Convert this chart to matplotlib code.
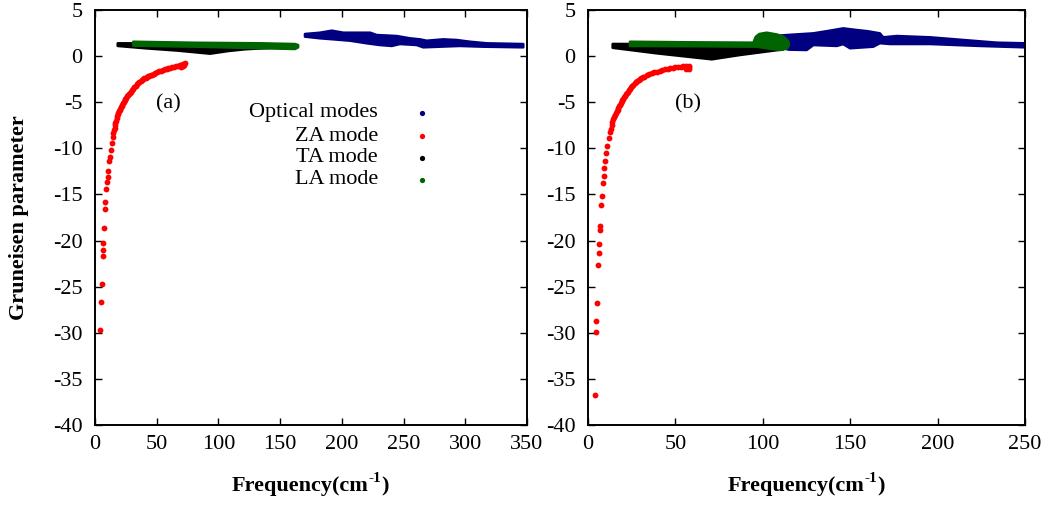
import numpy as np
import matplotlib
matplotlib.use("Agg")
import matplotlib.pyplot as plt

plt.rcParams['font.family'] = ['Liberation Serif', 'DejaVu Serif']
plt.rcParams['axes.unicode_minus'] = False

# ---------------- data ----------------
# panel (a)
za_a_f = [4.3, 5.1, 5.7, 6.2, 6.5, 6.8, 7.3, 8.1, 8.4, 9.2, 10.0, 10.3, 10.8, 11.6, 12.2,
          12.7, 13.5, 14.3, 14.8, 15.4, 15.8, 16.2, 16.6, 17.0, 17.6, 18.0, 18.5, 19.0,
          19.4, 19.9, 20.3, 20.9, 21.5, 22.1, 22.7, 23.3, 24.0, 24.7, 25.5, 26.2, 27.0,
          27.7, 28.5, 29.2, 30.0, 31.0, 32.0, 33.0, 34.0, 35.0, 36.0, 37.0, 38.0, 39.0,
          40.0, 41.0, 42.0, 43.0, 44.0, 45.0, 46.0, 47.5, 49.0, 50.5, 52.0, 53.5, 55.0,
          56.5, 58.0, 59.5, 61.0, 62.5, 64.0, 65.5, 67.0, 68.5, 70.0, 71.5, 73.0, 70.0,
          71.5, 72.5]
za_a_g = [-29.7, -26.7, -24.7, -21.7, -21.0, -20.3, -18.6, -16.6, -15.8, -14.4, -13.6,
          -13.1, -12.5, -11.4, -10.9, -10.2, -9.45, -8.74, -8.35, -8.0, -7.75, -7.5, -7.25,
          -7.0, -6.7, -6.5, -6.3, -6.15, -6.0, -5.87, -5.75, -5.57, -5.4, -5.25, -5.1,
          -4.95, -4.8, -4.65, -4.5, -4.36, -4.22, -4.1, -3.97, -3.84, -3.7, -3.52, -3.35,
          -3.2, -3.05, -2.92, -2.8, -2.7, -2.6, -2.51, -2.42, -2.34, -2.27, -2.2, -2.13,
          -2.06, -2.0, -1.91, -1.82, -1.74, -1.65, -1.57, -1.50, -1.43, -1.37, -1.31,
          -1.25, -1.19, -1.14, -1.09, -1.03, -0.98, -0.93, -0.87, -0.80, -1.20, -1.10,
          -1.00]

ta_a_up_f = [18.4, 40.0, 80.0, 120.0, 150.0]
ta_a_up_g = [1.39, 1.38, 1.36, 1.30, 1.20]
ta_a_lo_f = [18.4, 40.5, 67.5, 93.2, 108.0, 121.5, 140.4, 150.0]
ta_a_lo_g = [1.10, 0.85, 0.59, 0.26, 0.55, 0.74, 0.88, 1.00]

la_a_up_f = [31.0, 81.0, 135.0, 162.0, 164.6]
la_a_up_g = [1.56, 1.45, 1.39, 1.31, 1.20]
la_a_lo_f = [31.0, 81.0, 135.0, 162.0, 164.6]
la_a_lo_g = [1.13, 1.02, 0.85, 0.77, 0.95]

op_a_up_f = [170.1, 182.3, 191.8, 201.2, 223.0, 228.2, 244.4, 255.2, 263.3, 268.7, 282.2,
             293.0, 303.8, 317.3, 347.0]
op_a_up_g = [2.40, 2.54, 2.76, 2.54, 2.54, 2.29, 2.18, 1.93, 1.82, 1.67, 1.82, 1.75, 1.56,
             1.39, 1.31]
op_a_lo_f = [170.1, 182.3, 193.0, 206.6, 220.1, 230.9, 240.4, 247.1, 260.6, 266.0, 279.5,
             295.7, 314.6, 347.0]
op_a_lo_g = [2.11, 1.93, 1.82, 1.67, 1.39, 1.20, 1.10, 1.31, 1.20, 0.95, 1.02, 1.10, 1.02,
             0.95]

# panel (b)
za_b_f = [4.0, 4.6, 4.8, 5.1, 5.7, 6.1, 6.3, 6.7, 6.9, 7.6, 7.8, 8.4, 9.0, 9.2, 9.7, 10.3,
          11.0, 11.8, 12.6, 13.0, 13.5, 14.0, 14.5, 15.0, 15.4, 15.9, 16.4, 16.9, 17.3,
          17.8, 18.3, 18.8, 19.3, 19.7, 20.2, 20.7, 21.2, 21.7, 22.3, 22.9, 23.5, 24.1,
          24.7, 25.3, 26.0, 26.7, 27.5, 28.2, 29.0, 29.7, 30.5, 31.2, 32.0, 33.6, 35.0,
          36.5, 38.0, 39.5, 41.0, 42.5, 44.0, 45.5, 47.0, 48.5, 50.0, 51.5, 53.0, 54.5,
          56.0, 57.5, 56.0, 57.5, 57.5]
za_b_g = [-36.8, -29.9, -28.7, -26.8, -22.6, -21.3, -20.4, -18.9, -18.4, -16.1, -15.2,
          -13.8, -13.0, -12.1, -11.4, -10.5, -9.8, -8.9, -8.2, -7.85, -7.5, -7.15, -6.8,
          -6.6, -6.4, -6.2, -6.0, -5.8, -5.6, -5.42, -5.25, -5.07, -4.9, -4.75, -4.6,
          -4.45, -4.3, -4.15, -4.0, -3.85, -3.7, -3.55, -3.4, -3.25, -3.1, -2.95, -2.8,
          -2.69, -2.58, -2.49, -2.4, -2.31, -2.23, -2.08, -1.97, -1.86, -1.76, -1.67,
          -1.59, -1.52, -1.45, -1.39, -1.33, -1.28, -1.23, -1.18, -1.14, -1.10, -1.06,
          -1.02, -1.45, -1.40, -1.20]

ta_b_up_f = [14.1, 40.0, 80.0, 100.0, 112.0]
ta_b_up_g = [1.32, 1.30, 1.28, 1.25, 1.00]
ta_b_lo_f = [14.1, 39.3, 70.8, 87.0, 106.0, 112.0]
ta_b_lo_g = [0.90, 0.30, -0.35, 0.12, 0.59, 0.74]

la_b_up_f = [24.0, 58.4, 94.6, 96.0, 98.0, 102.2, 108.0, 112.0, 114.6, 115.0]
la_b_up_g = [1.56, 1.50, 1.46, 2.10, 2.40, 2.54, 2.35, 2.10, 1.60, 1.20]
la_b_lo_f = [24.0, 60.0, 96.5, 104.0, 109.8, 114.0]
la_b_lo_g = [1.10, 1.07, 1.02, 0.80, 0.66, 0.85]

op_b_up_f = [108.0, 114.0, 128.9, 138.4, 146.0, 153.7, 160.0, 167.0, 168.9, 176.6, 195.7,
             214.7, 233.8, 250.0]
op_b_up_g = [2.20, 2.29, 2.47, 2.76, 3.01, 2.83, 2.70, 2.47, 2.04, 2.18, 2.04, 1.75, 1.46,
             1.39]
op_b_lo_f = [108.0, 115.0, 125.1, 128.9, 142.3, 146.0, 149.9, 163.2, 167.0, 172.8, 195.7,
             224.3, 250.0]
op_b_lo_g = [1.00, 0.70, 0.66, 1.20, 1.10, 1.30, 0.85, 1.02, 1.40, 1.31, 1.31, 1.10, 0.95]

labels = ["Optical modes", "ZA mode", "TA mode", "LA mode"]
C_OP, C_ZA, C_TA, C_LA = "#000080", "#ff0000", "#000000", "#006400"

xticks_a = [0, 50, 100, 150, 200, 250, 300, 350]
xticks_b = [0, 50, 100, 150, 200, 250]
yticks = [-40, -35, -30, -25, -20, -15, -10, -5, 0, 5]

# ---------------- figure ----------------
W, H = 1048, 505
fig = plt.figure(figsize=(W / 100, H / 100), dpi=100)
ax_a = fig.add_axes([95/W, 1-425/H, 432/W, 415/H])
ax_b = fig.add_axes([588/W, 1-425/H, 437/W, 415/H])


def band(ax, uf, ug, lf, lg, color):
    xs = np.concatenate([np.asarray(uf), np.asarray(lf)[::-1]])
    ys = np.concatenate([np.asarray(ug), np.asarray(lg)[::-1]])
    ax.fill(xs, ys, facecolor=color, edgecolor=color, lw=1.8, joinstyle='round', zorder=2)


def panel(ax, za_f, za_g, ta, la, op, xticks, xmax):
    band(ax, *op, C_OP)
    ax.plot(za_f, za_g, 'o', ms=4.2, mec='none', color=C_ZA, zorder=3)
    band(ax, *ta, C_TA)
    band(ax, *la, C_LA)
    ax.set_xlim(0, xmax)
    ax.set_ylim(-40, 5)
    ax.set_xticks(xticks)
    ax.set_yticks(yticks)
    ax.tick_params(direction='in', top=True, right=True, length=5, width=1.0,
                   labelsize=16, colors='black')
    ax.tick_params(axis='y', pad=9)
    ax.tick_params(axis='x', pad=7)
    for s in ax.spines.values():
        s.set_linewidth(1.4)


panel(ax_a, za_a_f, za_a_g,
      (ta_a_up_f, ta_a_up_g, ta_a_lo_f, ta_a_lo_g),
      (la_a_up_f, la_a_up_g, la_a_lo_f, la_a_lo_g),
      (op_a_up_f, op_a_up_g, op_a_lo_f, op_a_lo_g), xticks_a, 350)
panel(ax_b, za_b_f, za_b_g,
      (ta_b_up_f, ta_b_up_g, ta_b_lo_f, ta_b_lo_g),
      (la_b_up_f, la_b_up_g, la_b_lo_f, la_b_lo_g),
      (op_b_up_f, op_b_up_g, op_b_lo_f, op_b_lo_g), xticks_b, 250)

ax_a.text(0.169, 0.773, "(a)", transform=ax_a.transAxes, fontsize=16,
          ha='center', va='center')
ax_b.text(0.229, 0.773, "(b)", transform=ax_b.transAxes, fontsize=16,
          ha='center', va='center')

# legend (gnuplot style: right-justified text, dot to the right)
leg_y = [0.752, 0.696, 0.644, 0.591]
for lab, col, yy in zip(labels, [C_OP, C_ZA, C_TA, C_LA], leg_y):
    ax_a.text(0.655, yy, lab, transform=ax_a.transAxes, fontsize=16,
              ha='right', va='center')
    ax_a.plot([0.757], [yy], 'o', ms=3.8, mec='none', color=col,
              transform=ax_a.transAxes, clip_on=False)

fig.text(0.018, 0.569, "Gruneisen parameter", rotation=90, fontsize=16,
         fontweight='bold', ha='center', va='center')

# x labels: "Frequency(cm" + raised "-1" + ")"
renderer = fig.canvas.get_renderer()
pieces = [("Frequency(cm", 16, 0.0), ("-1", 11, 9.5), (")", 16, 0.0)]


def text_width(s, size):
    t = fig.text(0, 0, s, fontsize=size, fontweight='bold')
    w = t.get_window_extent(renderer).width
    t.remove()
    return w


widths = [text_width(s, sz) for s, sz, _ in pieces]


def freq_label(xc_px, base_px):
    x = xc_px - sum(widths) / 2
    for (s, sz, dy), w in zip(pieces, widths):
        fig.text(x / W, (H - base_px + dy) / H, s, fontsize=sz, fontweight='bold',
                 ha='left', va='baseline')
        x += w


freq_label(310, 491)
freq_label(806, 491)

fig.savefig("out.png", dpi=100)
